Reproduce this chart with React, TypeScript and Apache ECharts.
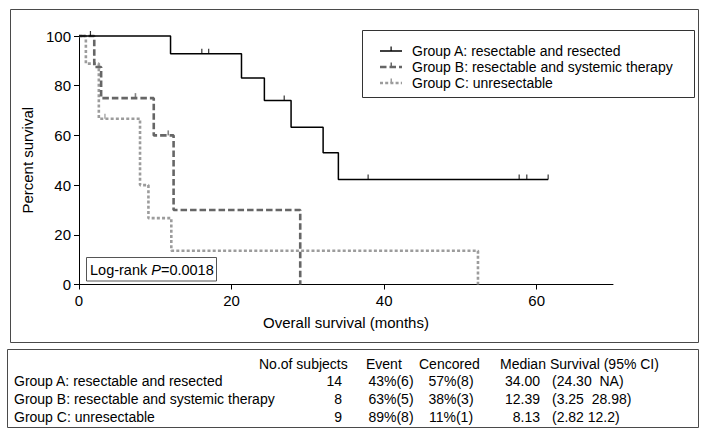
import React, { useEffect, useRef } from 'react';
import * as echarts from 'echarts';

const FONT = "'Liberation Sans', Arial, Helvetica, sans-serif";

// Axis ticks
const xTicks = [0, 20, 40, 60];
const yTicks = [0, 20, 40, 60, 80, 100];

// Group names
const groupNames = [
  'Group A: resectable and resected',
  'Group B: resectable and systemic therapy',
  'Group C: unresectable',
];

// Kaplan-Meier steps (time in months, percent survival)
const aTimes = [0, 12.0, 21.3, 24.3, 27.8, 32.0, 34.0, 61.5];
const aSurv = [100, 92.9, 83.1, 74.0, 63.3, 53.0, 42.3, 42.3];
const aCensored = [1.5, 16.1, 17.0, 26.9, 37.9, 57.7, 58.7, 61.5];

const bTimes = [0, 2.0, 2.9, 9.8, 12.4, 29.0];
const bSurv = [100, 87.5, 75.0, 60.0, 30.0, 0];
const bCensored = [7.4, 11.7];

const cTimes = [0, 0.9, 2.6, 8.0, 9.1, 12.1, 52.3];
const cSurv = [100, 88.9, 66.7, 40.0, 26.7, 13.6, 0];
const cCensored = [3.4];

// Table
const tableHeader = ['No.of subjects', 'Event', 'Cencored', 'Median', 'Survival (95% CI)'];
const nSubjects = ['14', '8', '9'];
const eventPct = ['43%(6)', '63%(5)', '89%(8)'];
const censoredPct = ['57%(8)', '38%(3)', '11%(1)'];
const medians = ['34.00', '12.39', '8.13'];
const survivalCI = ['(24.30  NA)', '(3.25  28.98)', '(2.82 12.2)'];

const logRankP = '0.0018';

const colors = ['#000000', '#666666', '#9c9c9c'];
const widths = [1.5, 2.6, 2.6];
const dashes: any[] = ['solid', [6.5, 3], [3, 2.2]];

function survAt(times: number[], surv: number[], t: number) {
  let v = surv[0];
  for (let i = 0; i < times.length; i++) if (times[i] <= t) v = surv[i];
  return v;
}

function pairs(times: number[], surv: number[]) {
  return times.map((t, i) => [t, surv[i]]);
}

export default function App() {
  const ref = useRef<HTMLDivElement>(null);
  useEffect(() => {
    if (!ref.current) return;
    const chart = echarts.init(ref.current, null, { renderer: 'svg' });

    const groups = [
      { times: aTimes, surv: aSurv, cens: aCensored },
      { times: bTimes, surv: bSurv, cens: bCensored },
      { times: cTimes, surv: cSurv, cens: cCensored },
    ];

    const lineSeries: any[] = [];
    const order = [2, 1, 0];
    order.forEach((g) => {
      lineSeries.push({
        type: 'line',
        name: groupNames[g],
        step: 'end',
        data: pairs(groups[g].times, groups[g].surv),
        showSymbol: false,
        symbol: 'none',
        lineStyle: { color: colors[g], width: widths[g], type: dashes[g] },
        z: 2 + (2 - g),
        clip: false,
      });
    });
    order.forEach((g) => {
      lineSeries.push({
        type: 'scatter',
        data: groups[g].cens.map((t) => [t, survAt(groups[g].times, groups[g].surv, t)]),
        symbol: 'rect',
        symbolSize: [g === 0 ? 1.2 : 1.6, 5],
        symbolOffset: [0, -2.5],
        itemStyle: { color: colors[g] },
        z: 6,
        clip: false,
      });
    });

    const graphics: any[] = [];
    // outer frame of chart panel
    graphics.push({
      type: 'rect',
      shape: { x: 10.5, y: 9.5, width: 688, height: 333 },
      style: { fill: 'none', stroke: '#4a4a4a', lineWidth: 1 },
      silent: true,
    });
    // legend box
    const lgX = 362, lgY = 30.5;
    graphics.push({
      type: 'rect',
      shape: { x: lgX + 0.5, y: lgY, width: 332, height: 67 },
      style: { fill: '#fff', stroke: '#333', lineWidth: 1 },
      z: 10,
    });
    const legendYs = [51, 67, 83];
    [0, 1, 2].forEach((g) => {
      const y = legendYs[g];
      graphics.push({
        type: 'line',
        shape: { x1: 380, y1: y, x2: 402, y2: y },
        style: {
          stroke: colors[g],
          lineWidth: g === 0 ? 1.5 : 2.4,
          lineDash: g === 0 ? null : dashes[g],
        },
        z: 11,
      });
      graphics.push({
        type: 'rect',
        shape: { x: 390.5, y: y - 4.5, width: g === 0 ? 1.2 : 1.5, height: 4.5 },
        style: { fill: colors[g] },
        z: 11,
      });
      graphics.push({
        type: 'text',
        x: 412,
        y: y,
        style: {
          text: groupNames[g],
          fontSize: 14,
          fontFamily: FONT,
          fill: '#000',
          verticalAlign: 'middle',
          align: 'left',
        },
        z: 11,
      });
    });
    // log-rank box
    graphics.push({
      type: 'rect',
      shape: { x: 86.5, y: 257.5, width: 130, height: 23.5 },
      style: { fill: '#fff', stroke: '#555', lineWidth: 1 },
      z: 10,
    });
    graphics.push({
      type: 'text',
      x: 90,
      y: 269.5,
      style: {
        text: '{n|Log-rank }{i|P}{n|=' + logRankP + '}',
        rich: {
          n: { fontSize: 14.5, fontFamily: FONT, fill: '#000' },
          i: { fontSize: 14.5, fontFamily: FONT, fontStyle: 'italic', fill: '#000' },
        },
        verticalAlign: 'middle',
        align: 'left',
      },
      z: 11,
    });
    // table box
    graphics.push({
      type: 'rect',
      shape: { x: 7.5, y: 349.5, width: 691, height: 78 },
      style: { fill: 'none', stroke: '#4a4a4a', lineWidth: 1 },
    });
    const txt = (text: string, x: number, y: number, align: string) => ({
      type: 'text',
      x,
      y,
      style: { text, fontSize: 14, fontFamily: FONT, fill: '#000', verticalAlign: 'middle', align },
    });
    const headerY = 364;
    const headerX = [259, 366, 419, 500, 550];
    tableHeader.forEach((h, i) => graphics.push(txt(h, headerX[i], headerY, 'left')));
    const rowYs = [381, 399, 417];
    [0, 1, 2].forEach((g) => {
      const y = rowYs[g];
      graphics.push(txt(groupNames[g], 14, y, 'left'));
      graphics.push(txt(nSubjects[g], 342, y, 'right'));
      graphics.push(txt(eventPct[g], 391, y, 'center'));
      graphics.push(txt(censoredPct[g], 451, y, 'center'));
      graphics.push(txt(medians[g], 540, y, 'right'));
      graphics.push(txt(survivalCI[g], 552, y, 'left'));
    });

    const axisCommon = {
      type: 'value',
      nameLocation: 'middle',
      nameTextStyle: { fontSize: 15, color: '#000', fontFamily: FONT },
      axisLine: { show: true, lineStyle: { color: '#000', width: 1 } },
      splitLine: { show: false },
    };

    const option: any = {
      animation: false,
      backgroundColor: '#fff',
      textStyle: { fontFamily: FONT },
      grid: { left: 79, top: 36, right: 95, bottom: 152.5, containLabel: false, outerBoundsMode: 'none' },
      xAxis: {
        ...axisCommon,
        min: 0,
        max: 70,
        interval: 20,
        name: 'Overall survival (months)',
        nameGap: 30,
        axisTick: { show: true, length: 5, customValues: xTicks, lineStyle: { color: '#000' } },
        axisLabel: { fontSize: 15, color: '#000', margin: 8, customValues: xTicks, fontFamily: FONT },
      },
      yAxis: {
        ...axisCommon,
        min: 0,
        max: 100,
        interval: 20,
        name: 'Percent survival',
        nameGap: 34,
        nameRotate: 90,
        axisTick: { show: true, length: 5, customValues: yTicks, lineStyle: { color: '#000' } },
        axisLabel: { fontSize: 15, color: '#000', margin: 8, customValues: yTicks, fontFamily: FONT },
      },
      series: lineSeries,
      graphic: { elements: graphics },
    };
    chart.setOption(option);
    return () => chart.dispose();
  }, []);
  return (
    <div
      ref={ref}
      style={{ position: 'fixed', left: 0, top: 0, width: 708, height: 437, background: '#fff' }}
    />
  );
}
